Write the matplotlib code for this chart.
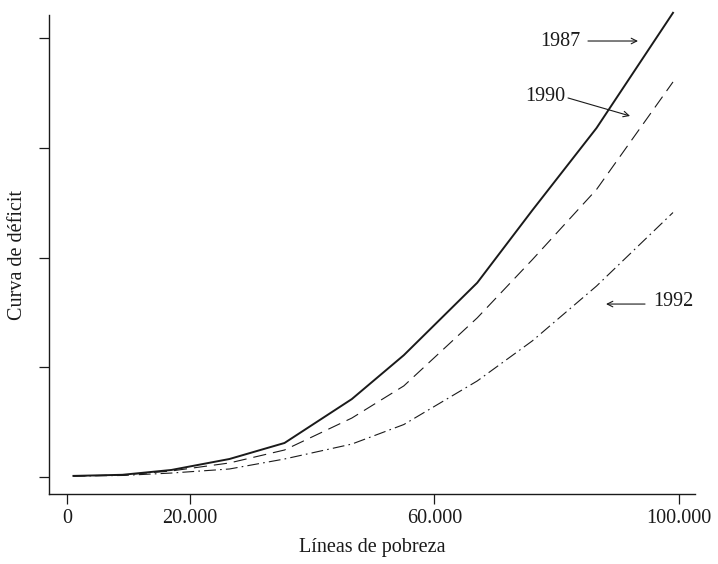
import matplotlib.pyplot as plt

plt.rcParams["font.family"] = ["Liberation Serif", "DejaVu Serif"]
plt.rcParams["lines.scale_dashes"] = False

INK = "#1a1a1a"

# líneas de pobreza (pesos) y curvas de déficit por año
lineas = [1000, 9000, 17000, 26500, 35500, 46500, 55000, 67000, 76000, 86500, 99000]
deficit_1987 = [0.01, 0.02, 0.064, 0.164, 0.31, 0.71, 1.11, 1.77, 2.43, 3.18, 4.23]
deficit_1990 = [0.009, 0.018, 0.055, 0.128, 0.246, 0.537, 0.83, 1.45, 1.98, 2.62, 3.60]
deficit_1992 = [0.009, 0.014, 0.036, 0.073, 0.164, 0.30, 0.478, 0.875, 1.24, 1.74, 2.41]

x_ticks = [0, 20000, 60000, 100000]
x_labels = ["0", "20.000", "60.000", "100.000"]
y_ticks = [0, 1, 2, 3, 4]

fig = plt.figure(figsize=(7.18, 5.64), dpi=100)
ax = fig.add_axes([0.0682, 0.1241, 0.8998, 0.8493])

ax.plot(lineas, deficit_1987, color=INK, lw=1.4, clip_on=False)
ax.plot(lineas, deficit_1990, color=INK, lw=0.8, linestyle=(0, (9.5, 5)),
        clip_on=False)
ax.plot(lineas, deficit_1992, color=INK, lw=0.8,
        linestyle=(0, (8.5, 3, 1.2, 3)), clip_on=False)

ax.set_xlim(-3000, 102600)
ax.set_ylim(-0.155, 4.21)
for side in ["top", "right"]:
    ax.spines[side].set_visible(False)
for side in ["left", "bottom"]:
    ax.spines[side].set_linewidth(1.0)
    ax.spines[side].set_color(INK)

ax.set_xticks(x_ticks)
ax.set_xticklabels(x_labels)
ax.set_yticks(y_ticks)
ax.set_yticklabels([])
ax.tick_params(direction="out", length=7.5, width=0.9, color=INK,
               labelsize=14.5, labelcolor=INK, pad=3.5)

ax.set_xlabel("Líneas de pobreza", fontsize=14.5, color=INK, labelpad=7)
ax.set_ylabel("Curva de déficit", fontsize=14.5, color=INK, labelpad=5)

# etiquetas de cada año con su flecha
arrow = dict(arrowstyle="->", color=INK, lw=0.8, shrinkA=0, shrinkB=0)
ax.text(83800, 3.973, "1987", fontsize=14.5, color=INK, ha="right", va="center")
ax.annotate("", xy=(93280, 3.973), xytext=(85100, 3.973), arrowprops=arrow)

ax.text(81350, 3.463, "1990", fontsize=14.5, color=INK, ha="right", va="center")
ax.annotate("", xy=(91976, 3.29), xytext=(81841, 3.454), arrowprops=arrow)

ax.text(95736, 1.595, "1992", fontsize=14.5, color=INK, ha="left", va="center")
ax.annotate("", xy=(88053, 1.576), xytext=(94428, 1.576), arrowprops=arrow)

fig.savefig("out.png", dpi=100)
